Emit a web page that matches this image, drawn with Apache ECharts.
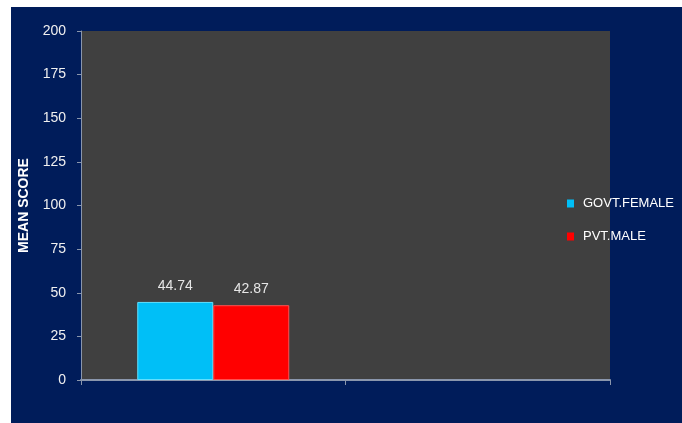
<!DOCTYPE html>
<html><head><meta charset="utf-8">
<script src="https://cdn.jsdelivr.net/npm/echarts@6/dist/echarts.min.js"></script>
<style>html,body{margin:0;padding:0;background:#fff}#c{width:682px;height:423px}</style>
</head><body><div id="c"></div>
<script>
var categories = ['', ''];
var govtFemale = [44.74, null];
var pvtMale = [42.87, null];
var yTicks = {min: 0, max: 200, interval: 25};

var chart = echarts.init(document.getElementById('c'));
var font = 'Liberation Sans';
chart.setOption({
  backgroundColor: '#ffffff',
  animation: false,
  graphic: [{type: 'rect', z: -10, shape: {x: 11, y: 7, width: 671, height: 416}, style: {fill: '#001c5a'}}],
  grid: {left: 81, right: 72, top: 31, bottom: 43, show: true, backgroundColor: '#404040', borderWidth: 0},
  legend: {
    orient: 'vertical', left: 562, top: 192, itemWidth: 7, itemHeight: 8, itemGap: 20,
    icon: 'rect',
    itemStyle: {borderWidth: 0},
    textStyle: {color: '#ffffff', fontFamily: font, fontSize: 13, padding: [0, 0, 0, 4]},
    data: ['GOVT.FEMALE', 'PVT.MALE']
  },
  xAxis: {
    type: 'category', data: categories,
    axisLine: {lineStyle: {color: '#8a96ac', width: 2}},
    axisTick: {show: true, length: 5, lineStyle: {color: '#8a96ac'}},
    axisLabel: {show: false},
    splitLine: {show: false}
  },
  yAxis: {
    type: 'value', min: yTicks.min, max: yTicks.max, interval: yTicks.interval,
    name: 'MEAN SCORE', nameLocation: 'middle', nameGap: 50, nameRotate: 90,
    nameTextStyle: {color: '#ffffff', fontWeight: 'bold', fontSize: 14, fontFamily: font},
    axisLine: {show: true, lineStyle: {color: '#8a96ac', width: 1}},
    axisTick: {show: true, length: 4, lineStyle: {color: '#8a96ac'}},
    axisLabel: {color: '#f0f0f0', fontSize: 14, margin: 15, fontFamily: font},
    splitLine: {show: false}
  },
  series: [
    {name: 'GOVT.FEMALE', type: 'bar', data: govtFemale, barWidth: 76, barGap: '0%',
     itemStyle: {color: '#00bff7', borderColor: '#5fe0ff', borderWidth: 1},
     label: {show: true, position: 'top', distance: 9, color: '#e6e6e6', fontSize: 14, fontFamily: font}},
    {name: 'PVT.MALE', type: 'bar', data: pvtMale, barWidth: 76,
     itemStyle: {color: '#ff0000', borderColor: '#ff5050', borderWidth: 1},
     label: {show: true, position: 'top', distance: 9, color: '#e6e6e6', fontSize: 14, fontFamily: font}}
  ]
});
</script></body></html>
